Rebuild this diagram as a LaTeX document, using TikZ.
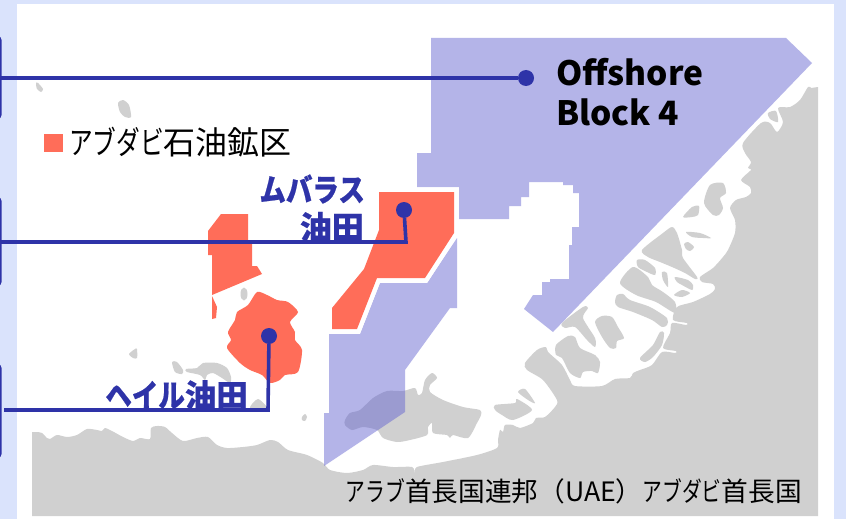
\documentclass[tikz,border=0pt]{standalone}
\usepackage{fontspec}
\setmainfont{Noto Sans CJK JP}
\newfontfamily\kanafont[FakeStretch=.74]{Noto Sans CJK JP}
\newfontfamily\boldkana[FakeStretch=.84,FakeBold=.6]{Noto Sans CJK JP}
\newfontfamily\boldkanji[FakeBold=.6]{Noto Sans CJK JP}
\definecolor{framebg}{HTML}{DAE3FC}
\definecolor{landgrey}{HTML}{D0D0D0}
\definecolor{blockblue}{HTML}{6060D0}
\definecolor{fieldred}{HTML}{FF6D59}
\definecolor{leaderblue}{HTML}{2E33A8}
\tikzset{
  land/.style={fill=landgrey,smooth cycle,tension=.45},
  block/.style={fill=blockblue,fill opacity=.47},
  field/.style={fill=fieldred},
  halo/.style={fill=white,draw=white,line width=9pt,line join=miter},
  leader/.style={draw=leaderblue,line width=3.6pt,line join=miter},
  enddot/.style={circle,fill=leaderblue,inner sep=0pt,minimum size=16pt},
  sidebox/.style={draw=leaderblue,line width=2pt,rounded corners=3pt},
  bluelabel/.style={text=leaderblue,inner sep=0pt},
}
\begin{document}
\begin{tikzpicture}[x=1pt,y=-1pt]
\useasboundingbox (0,0) rectangle (846,519);
\fill[framebg] (0,0) rectangle (846,519);
\fill[white] (17,4) rectangle (834,519);
\draw[sidebox] (-10,37) rectangle (0.5,118);
\draw[sidebox] (-10,198) rectangle (0.5,285);
\draw[sidebox] (-10,365) rectangle (0.5,457);
% mainland
\fill[landgrey] (818,516) -- (32,516) -- (32,432) -- plot[smooth,tension=.45] coordinates {
(37,432)(42,433)(47,438)(50,439)(57,435)(67,437)(77,435)(87,429)(97,430)(102,431)(105,428)(112,431)(123,437)(133,441)(140,438)(150,439)(151,428)(157,426)(165,427)(172,433)(183,441)(197,438)(208,437)(217,445)(227,448)(243,447)(257,445)(270,440)(278,442)(288,450)(307,455)(323,463)(330,470)(347,473)(363,470)(373,465)(393,467)(412,467)(415,473)(417,467)(443,462)(477,455)(497,448)(498,440)(500,430)(503,432)(505,425)(513,425)(520,428)(533,423)(536,418)(545,417)(555,407)(557,400)(543,380)(527,370)(525,363)(537,350)(546,347)(548,352)(562,365)(570,380)(575,386)(602,386)(615,379)(630,378)(633,373)(640,370)(652,365)(662,352)(675,353)(676,351)(663,348)(670,333)(672,323)(686,325)(687,323)(673,320)(677,307)(693,302)(710,294)(715,289)(713,284)(702,282)(700,277)(713,268)(723,257)(728,250)(735,233)(735,220)(730,208)(736,200)(746,197)(751,193)(750,187)(741,180)(751,170)(748,168)(751,162)(745,153)(743,143)(761,123)(770,123)(777,132)(783,122)(778,108)(790,107)(800,100)(808,87)(811,88)} -- (818,87) -- cycle;
% islands
\fill[land] plot coordinates {(36,83)(38,83)(43,89)(41,92)(37,89)};
\fill[land] plot coordinates {(118,103)(123,100)(129,105)(131,117)(125,117)(120,112)};
\fill[landgrey] (244,294) ellipse [x radius=3.5,y radius=6.5];
\fill[land] plot coordinates {(129,354)(135,349)(137,349)(137,358)(133,358)};
\fill[land] plot coordinates {(172,362)(177,362)(183,370)(182,374)(175,372)};
\fill[land] plot coordinates {(186,369)(197,368)(203,363)(217,363)(227,368)(231,377)(230,383)(222,378)(213,373)(207,375)(205,380)(200,375)(187,372)};
\fill[land] plot coordinates {(250,408)(258,399)(267,407)(267,410)};
\fill[land] plot coordinates {(302,417)(305,414)(307,417)(305,421)(302,420)};
\fill[land] plot coordinates {(345,420)(350,413)(360,410)(373,398)(387,391)(403,391)(415,388)(418,395)(422,393)(425,380)(432,373)(437,378)(430,385)(430,392)(443,400)(463,407)(480,410)(481,415)(477,423)(468,438)(453,435)(450,438)(447,435)(433,433)(432,423)(428,427)(427,435)(410,440)(397,442)(383,438)(377,430)(363,427)(352,430)(345,425)};
\fill[land] plot coordinates {(495,405)(515,403)(517,399)(532,410)(513,420)(502,415)(495,410)};
\fill[land] plot coordinates {(518,392)(525,389)(535,403)(528,400)};
\fill[land] plot coordinates {(556,345)(568,336)(575,337)(580,348)(595,355)(600,362)(598,373)(592,371)(583,372)(580,378)(570,373)(562,358)(556,355)};
\fill[land] plot coordinates {(562,323)(583,307)(588,308)(583,318)(595,338)(595,347)(587,340)(575,327)(565,328)};
\fill[land] plot coordinates {(595,322)(602,316)(612,317)(618,327)(624,338)(617,341)(616,348)(610,348)(602,337)};
\fill[land] plot coordinates {(640,358)(653,345)(660,332)(664,333)(662,345)(653,357)(645,362)};
\fill[land] plot coordinates {(617,295)(623,294)(630,300)(650,307)(667,318)(667,325)(662,327)(652,320)(633,312)(618,307)(615,302)};
\fill[land] plot coordinates {(620,283)(633,267)(648,277)(652,285)(663,292)(675,302)(675,313)(656,302)(636,295)};
\fill[land] plot coordinates {(637,260)(645,260)(655,268)(655,275)(647,272)(638,267)};
\fill[land] plot coordinates {(662,272)(667,273)(668,287)(663,280)};
\fill[land] plot coordinates {(675,277)(688,280)(693,285)(692,290)(682,285)(677,282)};
\fill[land] plot coordinates {(674,295)(682,290)(690,293)(682,297)};
\fill[land] plot coordinates {(642,250)(663,233)(672,227)(677,233)(682,250)(683,258)(697,277)(695,279)(685,273)(672,267)(660,262)(648,257)};
\fill[land] plot coordinates {(683,217)(692,207)(699,206)(698,215)(692,217)};
\fill[land] plot coordinates {(686,232)(700,233)(711,238)(703,238)(692,237)};
\fill[land] plot coordinates {(684,244)(688,242)(694,247)(690,251)(686,249)};
\fill[land] plot coordinates {(710,185)(723,183)(726,193)(720,198)(723,208)(719,215)(713,215)(704,203)};
\fill[land] plot coordinates {(768,113)(776,111)(778,122)(770,119)};
% blocks
\fill[block] (431,38) -- (786,38) -- (812,63) -- (553,332) -- (524,309) -- (533,295) -- (542,295) -- (542,282) -- (550,282) -- (550,279) -- (569,279) -- (569,245) -- (572,245) -- (572,227) -- (579,227) -- (579,193) -- (573,193) -- (573,185) -- (563,185) -- (563,182) -- (529,182) -- (529,197) -- (521,197) -- (521,206) -- (509,206) -- (509,219) -- (459,219) -- (459,187) -- (417,187) -- (417,153) -- (431,153) -- cycle;
\fill[block] (329,334) -- (360,334) -- (380,283) -- (427,283) -- (457,238) -- (457,308) -- (450,308) -- (405,370) -- (405,412) -- (324,466) -- (324,413) -- (329,413) -- cycle;
% fields
\fill[halo] (379,192) -- (454,192) -- (454,233) -- (425,278) -- (377,278) -- (357,329) -- (332,329) -- (332,308) -- (364,269) -- (379,230) -- cycle;
\fill[field] (379,192) -- (454,192) -- (454,233) -- (425,278) -- (377,278) -- (357,329) -- (332,329) -- (332,308) -- (364,269) -- (379,230) -- cycle;
\fill[field] (221,214) -- (248,214) -- (248,240) -- (252,240) -- (252,266) -- (257,266) -- (262,274) -- (212,295) -- (212,255) -- (208,255) -- (208,231) -- cycle;
\fill[field] (212,296) -- (217,307) -- (216,318) -- (212,319) -- cycle;
\fill[field,smooth cycle,tension=.45] plot coordinates {(257,292)(267,295)(277,300)(288,302)(298,312)(290,322)(295,332)(295,340)(302,350)(298,372)(285,375)(280,380)(270,383)(262,375)(250,370)(240,363)(227,348)(231,340)(228,332)(235,320)(237,312)(248,305)};
% legend
\fill[field] (44,134) rectangle (63,152);
\node[anchor=west,inner sep=0pt,font=\fontsize{32}{34}\selectfont] (legend) at (69,142) {{\kanafont アブダビ}石油鉱区};
% labels
\node[anchor=west,inner sep=0pt,align=left,font=\fontsize{33.5}{40}\selectfont\bfseries] (offshore) at (556,92) {Offshore\\Block 4};
\node[bluelabel,anchor=east,font=\fontsize{31.5}{38}\selectfont\bfseries] (mubarras1) at (365,189) {\boldkana ムバラス};
\node[bluelabel,anchor=east,font=\fontsize{32}{38}\selectfont\bfseries] (mubarras2) at (364,227) {\boldkanji 油田};
\node[bluelabel,anchor=east,font=\fontsize{31.5}{38}\selectfont\bfseries] (hail) at (248,395) {{\boldkana ヘイル}{\boldkanji 油田}};
\node[anchor=east,inner sep=0pt,font=\fontsize{26.7}{30}\selectfont] (uae) at (802,491) {{\kanafont アラブ}首長国連邦（UAE）{\kanafont アブダビ}首長国};
% leaders
\node[enddot] (d1) at (526,78) {};
\node[enddot] (d2) at (404,210) {};
\node[enddot] (d3) at (269,336) {};
\coordinate (s1) at (0,78);
\coordinate (s2) at (0,242);
\coordinate (s3) at (4,410);
\coordinate (k2) at (406,242);
\coordinate (k3) at (268,410);
\draw[leader] (s1) -- (d1);
\draw[leader] (s2) -- (k2) -- (d2);
\draw[leader] (s3) -- (k3) -- (d3);
\end{tikzpicture}
\end{document}
